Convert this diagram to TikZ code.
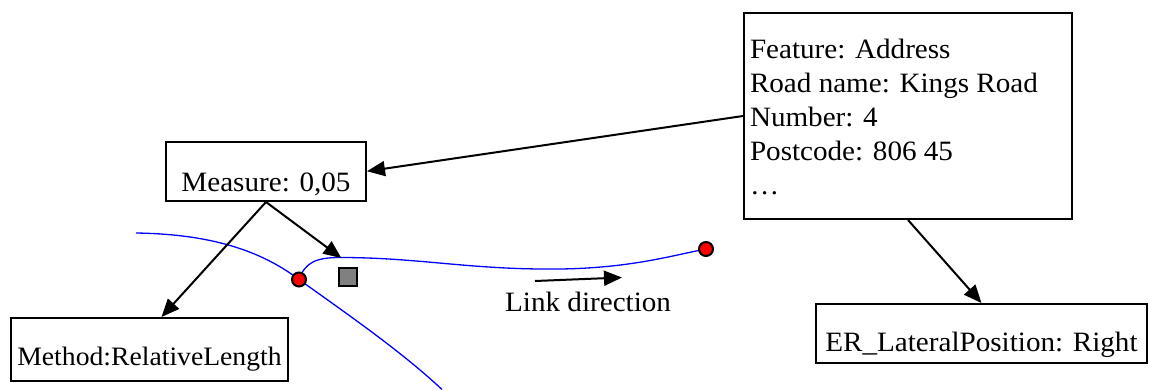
\documentclass[tikz,border=0pt]{standalone}
\usepackage{fontspec}
\setmainfont{Liberation Serif}[FakeStretch=1.04]
\usepackage{tikz}
\usetikzlibrary{arrows.meta, calc, backgrounds}

\begin{document}
\begin{tikzpicture}[x=1pt, y=-1pt, >={Triangle[length=18pt, width=15pt]}, font=\fontsize{28}{34}\selectfont]
        \tikzstyle{block} = [rectangle, draw=black, line width=2pt, inner xsep=0pt, inner ysep=0pt, anchor=north west]
        \tikzstyle{marker} = [circle, draw=black, fill=red, line width=2pt, minimum size=14pt, inner sep=0pt]
        \tikzstyle{refpoint} = [rectangle, draw=black, fill=gray, line width=1.8pt, minimum size=18pt, inner sep=0pt]
        \tikzstyle{link} = [draw, ->, line width=2pt, color=black]
        \tikzstyle{road} = [draw, line width=1.3pt, color=blue]

        \useasboundingbox (0,0) rectangle (1149,389);

        \node [block, inner xsep=6pt] (address) at (743,12) {\parbox[t][206pt][t]{316pt}{\rule{0pt}{45pt}Feature: Address\\ Road name: Kings Road\\ Number: 4\\ Postcode: 806 45\\ …}};
        \node [block, minimum width=200pt, text height=49.5pt, text depth=10pt] (measure) at (165,140.5) {Measure: 0,05};
        \node [block, minimum width=277pt, text height=47pt, text depth=16pt, font=\fontsize{26.6}{30}\selectfont] (method) at (10,317) {Method:RelativeLength};
        \node [block, minimum width=331pt, text height=47pt, text depth=12pt] (lateral) at (815,303) {ER\_LateralPosition: Right};

        \node [marker] (junction) at (299,279.5) {};
        \node [marker] (linkend) at (706,249) {};
        \node [refpoint] (refpt) at (348.3,277) {};

        \coordinate (roadin) at (136,233);
        \coordinate (roadout) at (442,389.5);
        \coordinate (dirfrom) at (535,281);
        \coordinate (dirto) at (622,277.5);
        \node [anchor=base west, inner sep=0pt] (dirlabel) at (505,311) {Link direction};

        \begin{scope}[on background layer]
            \path [road] (roadin) .. controls (200,234) and (255,246) .. (junction.center) .. controls (340,309) and (400,350) .. (roadout);
            \path [road] (junction.center) .. controls (305,263) and (315,257.5) .. (340,257.5) .. controls (420,257.5) and (470,270) .. (560,269) .. controls (630,268) and (670,256) .. (linkend.center);
        \end{scope}

        \path [link] (address.west) -- (measure.east);
        \path [link] (measure.south) -- ($(method.north)+(12,0)$);
        \path [link] (measure.south) -- ($(refpt.north west)+(3,-9)$);
        \path [link] (address.south) -- (lateral.north);
        \path [link] (dirfrom) -- (dirto);
    \end{tikzpicture}
\end{document}
